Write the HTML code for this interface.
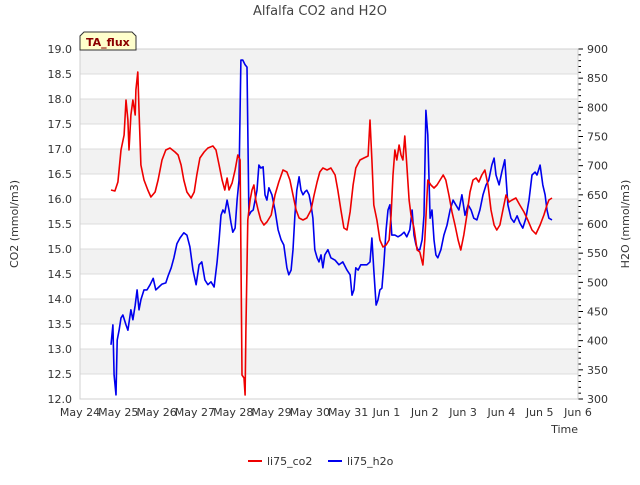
<!DOCTYPE html>
<html><head><meta charset="utf-8"><style>
body{margin:0;background:#fff;font-family:"Liberation Sans","DejaVu Sans",sans-serif}
svg text{font-family:"DejaVu Sans","Liberation Sans",sans-serif}
</style></head><body>
<svg id="c" width="640" height="480" xmlns="http://www.w3.org/2000/svg"></svg>
<script>
const xTickLabels=["May 24","May 25","May 26","May 27","May 28","May 29","May 30","May 31","Jun 1","Jun 2","Jun 3","Jun 4","Jun 5","Jun 6"];
const leftTicks=[12.0,12.5,13.0,13.5,14.0,14.5,15.0,15.5,16.0,16.5,17.0,17.5,18.0,18.5,19.0];
const rightTicks=[300,350,400,450,500,550,600,650,700,750,800,850,900];
const co2Days=[0.81,0.91,0.99,1.07,1.15,1.20,1.25,1.28,1.33,1.38,1.44,1.46,1.51,1.54,1.59,1.67,1.77,1.85,1.96,2.04,2.14,2.24,2.35,2.48,2.56,2.64,2.71,2.79,2.90,2.98,3.05,3.13,3.24,3.34,3.47,3.55,3.63,3.71,3.78,3.84,3.89,3.97,4.05,4.12,4.18,4.23,4.28,4.31,4.33,4.38,4.44,4.49,4.54,4.59,4.65,4.72,4.80,4.88,4.99,5.09,5.19,5.30,5.40,5.48,5.56,5.64,5.72,5.82,5.92,6.03,6.11,6.19,6.26,6.34,6.45,6.55,6.66,6.73,6.81,6.89,6.97,7.05,7.13,7.20,7.31,7.41,7.52,7.57,7.62,7.67,7.75,7.83,7.91,7.99,8.07,8.12,8.17,8.22,8.27,8.33,8.38,8.43,8.48,8.53,8.59,8.64,8.72,8.80,8.87,8.95,9.00,9.08,9.16,9.24,9.32,9.40,9.48,9.55,9.63,9.71,9.79,9.87,9.94,10.02,10.10,10.18,10.26,10.34,10.41,10.49,10.57,10.65,10.73,10.81,10.88,10.96,11.04,11.12,11.20,11.28,11.38,11.48,11.59,11.69,11.80,11.90,12.01,12.11,12.19,12.24,12.32];
const co2Vals=[16.18,16.16,16.34,16.98,17.28,17.98,17.58,16.98,17.68,17.98,17.68,18.18,18.54,17.78,16.68,16.38,16.18,16.04,16.14,16.38,16.78,16.98,17.02,16.94,16.88,16.68,16.38,16.14,16.02,16.14,16.48,16.82,16.94,17.02,17.06,16.98,16.68,16.38,16.18,16.42,16.18,16.32,16.58,16.88,16.78,12.48,12.42,12.08,13.38,15.58,15.98,16.18,16.28,15.98,15.78,15.58,15.48,15.54,15.68,16.08,16.34,16.58,16.54,16.38,16.08,15.78,15.62,15.58,15.62,15.78,16.08,16.34,16.54,16.62,16.58,16.62,16.48,16.18,15.78,15.42,15.38,15.74,16.28,16.62,16.78,16.82,16.86,17.58,16.78,15.88,15.58,15.18,15.04,15.08,15.18,15.68,16.48,16.98,16.78,17.08,16.88,16.78,17.26,16.68,15.98,15.68,15.42,14.98,14.94,14.68,15.18,16.38,16.28,16.22,16.28,16.38,16.48,16.38,16.08,15.74,15.48,15.18,14.98,15.28,15.68,16.14,16.38,16.42,16.34,16.48,16.58,16.28,15.78,15.48,15.38,15.48,15.78,16.08,15.94,15.98,16.02,15.88,15.74,15.58,15.38,15.30,15.48,15.68,15.88,15.98,16.02];
const h2oDays=[0.81,0.86,0.89,0.94,0.97,1.02,1.07,1.12,1.20,1.25,1.33,1.38,1.44,1.49,1.54,1.59,1.67,1.75,1.83,1.91,1.98,2.06,2.14,2.24,2.30,2.38,2.45,2.53,2.61,2.71,2.79,2.87,2.95,3.03,3.11,3.18,3.26,3.34,3.42,3.50,3.58,3.63,3.68,3.73,3.78,3.84,3.89,3.94,3.99,4.05,4.10,4.15,4.20,4.25,4.31,4.36,4.41,4.46,4.52,4.57,4.62,4.67,4.72,4.78,4.83,4.88,4.93,5.01,5.09,5.17,5.25,5.32,5.40,5.45,5.51,5.56,5.61,5.66,5.72,5.77,5.82,5.87,5.92,5.98,6.03,6.08,6.13,6.19,6.24,6.29,6.34,6.39,6.47,6.55,6.66,6.76,6.86,6.97,7.05,7.10,7.15,7.20,7.26,7.33,7.41,7.49,7.57,7.62,7.67,7.73,7.78,7.83,7.88,7.93,7.99,8.04,8.09,8.14,8.22,8.30,8.38,8.46,8.53,8.61,8.67,8.72,8.77,8.82,8.87,8.93,8.98,9.03,9.08,9.14,9.19,9.24,9.29,9.34,9.42,9.50,9.58,9.66,9.74,9.81,9.89,9.97,10.05,10.13,10.21,10.28,10.36,10.44,10.52,10.60,10.67,10.75,10.81,10.86,10.94,11.01,11.09,11.17,11.25,11.33,11.41,11.48,11.56,11.64,11.72,11.80,11.88,11.93,12.01,12.08,12.14,12.19,12.24,12.32];
const h2oVals=[393,427,341,307,401,418,439,444,427,418,453,436,461,487,453,470,487,487,496,507,487,492,497,499,511,525,542,566,576,585,581,561,521,496,530,535,504,496,501,492,535,573,615,624,619,641,624,603,586,593,641,675,881,881,873,869,615,621,624,641,658,701,696,698,650,641,662,650,624,590,573,564,525,513,521,556,615,658,681,658,650,655,658,650,633,610,556,542,535,547,525,547,556,542,538,530,535,521,513,478,487,525,521,530,530,530,535,576,521,461,470,487,490,530,590,624,633,581,581,578,581,586,578,590,624,581,564,556,556,573,615,795,753,610,624,573,547,542,556,581,598,624,641,633,624,650,615,633,624,610,607,624,650,667,675,701,713,684,667,689,710,633,610,603,614,602,593,610,641,684,689,684,701,667,650,624,610,607];

const NS="http://www.w3.org/2000/svg",svg=document.getElementById('c');
const L=80,R=578,T=49,B=399;
const xS=d=>L+d*(R-L)/13;
const yL=v=>B-(v-12)*(B-T)/7;
const yR=v=>B-(v-300)*(B-T)/600;
function mk(tag,attrs,parent){const e=document.createElementNS(NS,tag);for(const k in attrs)e.setAttribute(k,attrs[k]);(parent||svg).appendChild(e);return e;}
function txt(s,attrs){const e=mk('text',attrs);e.textContent=s;return e;}
// bands
for(let i=0;i<leftTicks.length-1;i++){
 if(i%2===1){const r=mk('rect',{x:L,y:yL(leftTicks[i+1]),width:R-L,height:yL(leftTicks[i])-yL(leftTicks[i+1]),fill:'#f2f2f2'});
 }
}
leftTicks.forEach(v=>{const g=mk('line',{x1:L,x2:R,y1:yL(v),y2:yL(v),stroke:'#dcdcdc','stroke-width':1});
 
 const t=txt(v.toFixed(1),{x:L-8,y:yL(v)+4,'text-anchor':'end','font-size':11,fill:'#333'});
 });
rightTicks.forEach(v=>{const t=txt(String(v),{x:R+9,y:yR(v)+4,'font-size':11,fill:'#333'});
 });
for(let v=300;v<=900;v+=10){const l=mk('line',{x1:R,x2:R+(v%50===0?5:3),y1:yR(v),y2:yR(v),stroke:'#000','stroke-width':1});
 }
xTickLabels.forEach((s,i)=>{const t=txt(s,{x:xS(i),y:B+17,'text-anchor':'middle','font-size':11,fill:'#333'});
 });
const frame=mk('rect',{x:L,y:T,width:R-L,height:B-T,fill:'none',stroke:'#d0d0d0'});

function line(days,vals,ys,color,name){const p=mk('polyline',{points:days.map((d,i)=>xS(d).toFixed(1)+','+ys(vals[i]).toFixed(1)).join(' '),fill:'none',stroke:color,'stroke-width':1.6,'stroke-linejoin':'round'});
 }
line(h2oDays,h2oVals,yR,'#0000ee','h2o-line');
line(co2Days,co2Vals,yL,'#ee0000','co2-line');
</script>
<svg width="640" height="480" style="position:absolute;left:0;top:0" xmlns="http://www.w3.org/2000/svg">
<text x="320" y="15" text-anchor="middle" font-size="13" fill="#444">Alfalfa CO2 and H2O</text>
<text x="18" y="224" text-anchor="middle" font-size="11" fill="#333" transform="rotate(-90 18 224)">CO2 (mmol/m3)</text>
<text x="629" y="224" text-anchor="middle" font-size="11" fill="#333" transform="rotate(-90 629 224)">H2O (mmol/m3)</text>
<text x="578" y="433" text-anchor="end" font-size="11" fill="#333">Time</text>
<g><path d="M84,32 L132,32 L136,36 L136,50 L80,50 L80,36 Z" fill="#ffffcc" stroke="#333"/>
<text x="86" y="46" font-size="11" font-weight="bold" fill="#8b0000">TA_flux</text></g>
<g><line x1="248" x2="262" y1="461" y2="461" stroke="#ee0000" stroke-width="2"/><text x="267" y="465" font-size="11" fill="#333">li75_co2</text></g>
<g><line x1="328" x2="342" y1="461" y2="461" stroke="#0000ee" stroke-width="2"/><text x="347" y="465" font-size="11" fill="#333">li75_h2o</text></g>
</svg>
</body></html>
